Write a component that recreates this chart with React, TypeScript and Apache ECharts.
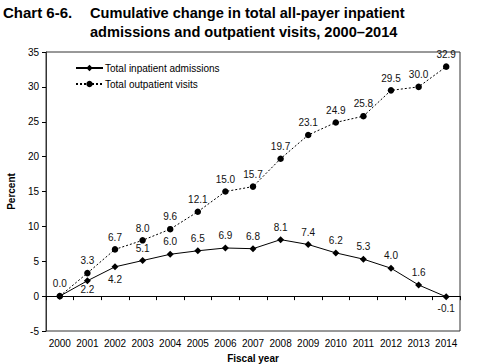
import React, { useEffect, useRef } from "react";
import * as echarts from "echarts";

const years = ["2000","2001","2002","2003","2004","2005","2006","2007","2008","2009","2010","2011","2012","2013","2014"];
const inpatient = [0, 2.2, 4.2, 5.1, 6.0, 6.5, 6.9, 6.8, 8.1, 7.4, 6.2, 5.3, 4.0, 1.6, -0.1];
const outpatient = [0, 3.3, 6.7, 8.0, 9.6, 12.1, 15.0, 15.7, 19.7, 23.1, 24.9, 25.8, 29.5, 30.0, 32.9];

const FONT = "Liberation Sans, Arial, sans-serif";

export default function App() {
  const ref = useRef<HTMLDivElement>(null);
  useEffect(() => {
    const chart = echarts.init(ref.current!, null, { renderer: "svg" });
    // label placement for the inpatient series (style only)
    const labelPos = ["none","bottom","bottom","top","top","top","top","top","top","top","top","top","top","top","bottom"];
    const labelDist = [4, 0, 4, 4, 4, 4, 4, 4, 4, 4, 4, 4, 4, 4, 3];
    const inData = inpatient.map((v, i) => {
      const pos = labelPos[i];
      return {
        value: v,
        label: pos === "none" ? { show: false } : { show: true, position: pos, distance: labelDist[i] },
      };
    });
    chart.setOption({
      animation: false,
      backgroundColor: "#fff",
      textStyle: { fontFamily: FONT },
      title: [
        { text: "Chart 6-6.", left: 3, top: 3, padding: 0, textStyle: { fontSize: 15, fontWeight: "bold", color: "#000", lineHeight: 19, fontFamily: FONT } },
        {
          text: "Cumulative change in total all-payer inpatient\nadmissions and outpatient visits, 2000\u20132014",
          left: 90, top: 3, padding: 0,
          textStyle: { fontSize: 14.6, fontWeight: "bold", color: "#000", lineHeight: 19, fontFamily: FONT },
        },
      ],
      legend: {
        orient: "vertical",
        left: 75, top: 63, padding: 0,
        itemWidth: 27, itemHeight: 8, itemGap: 6,
        textStyle: { fontSize: 10, color: "#000", fontFamily: FONT, padding: [0, 0, 0, -3] },
        data: ["Total inpatient admissions", "Total outpatient visits"],
      },
      grid: {
        left: 46, right: 40, top: 52, bottom: 33,
        containLabel: false, outerBoundsMode: "none",
        show: true, borderColor: "#333", borderWidth: 1, backgroundColor: "transparent",
      },
      xAxis: [
        {
          type: "category", data: years, boundaryGap: true, position: "bottom",
          name: "Fiscal year", nameLocation: "middle", nameGap: 22,
          nameTextStyle: { fontSize: 10, fontWeight: "bold", color: "#000", fontFamily: FONT },
          axisLine: { show: false, onZero: false },
          axisTick: { show: false },
          axisLabel: { fontSize: 10, color: "#000", margin: 7, fontFamily: FONT, interval: 0, hideOverlap: false },
        },
        {
          type: "category", data: years, boundaryGap: true, position: "bottom",
          axisLine: { show: true, onZero: true, lineStyle: { color: "#000", width: 1 } },
          axisTick: { show: true, length: 4, interval: 0, lineStyle: { color: "#000" } },
          axisLabel: { show: false },
        },
      ],
      yAxis: {
        type: "value", min: -5, max: 35, interval: 5,
        name: "Percent", nameLocation: "middle", nameGap: 30, nameRotate: 90,
        nameTextStyle: { fontSize: 10, fontWeight: "bold", color: "#000", fontFamily: FONT },
        axisLine: { show: true, lineStyle: { color: "#333" } },
        axisTick: { show: true, length: 4, lineStyle: { color: "#000" } },
        axisLabel: { fontSize: 10, color: "#000", margin: 7, fontFamily: FONT },
        splitLine: { show: false },
      },
      series: [
        {
          name: "Total outpatient visits", type: "line", data: outpatient, xAxisIndex: 0,
          symbol: "circle", symbolSize: 6.5,
          lineStyle: { color: "#000", width: 1, type: [2, 2] },
          itemStyle: { color: "#000" },
          label: { show: true, position: "top", distance: 4, fontSize: 10, color: "#111", fontFamily: FONT, formatter: (p: any) => p.value.toFixed(1) },
          z: 3,
        },
        {
          name: "Total inpatient admissions", type: "line", data: inData, xAxisIndex: 0,
          symbol: "diamond", symbolSize: 7,
          lineStyle: { color: "#000", width: 1 },
          itemStyle: { color: "#000" },
          label: { show: true, fontSize: 10, color: "#111", fontFamily: FONT, formatter: (p: any) => Number(p.value).toFixed(1) },
          z: 4,
        },
      ],
    });
    return () => chart.dispose();
  }, []);
  return <div ref={ref} style={{ width: 500, height: 364, position: "absolute", left: 0, top: 0 }} />;
}
